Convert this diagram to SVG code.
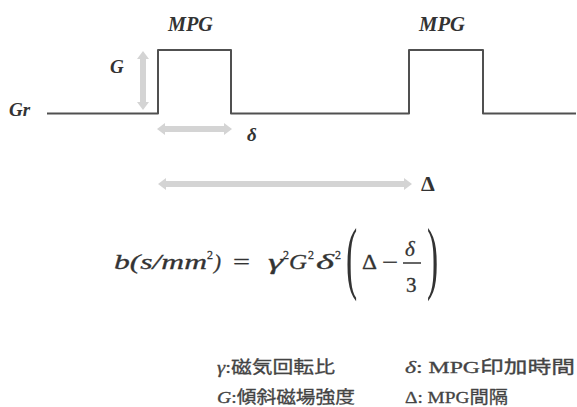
<svg xmlns="http://www.w3.org/2000/svg" width="577" height="407" viewBox="0 0 577 407">
<style>
.ln{fill:none;stroke:#505050;stroke-width:2;stroke-linejoin:round}
.ar{fill:#d4d4d4;stroke:none}
.it{font-family:"Liberation Serif",serif;font-style:italic;fill:#333}
.up{font-family:"Liberation Serif",serif;fill:#333}
.fm{stroke:#333;stroke-width:0.3}
.lg{font-family:"Liberation Serif","Noto Sans CJK JP",serif;font-size:17px;fill:#444;stroke:#444;stroke-width:0.3}
</style>
<rect width="577" height="407" fill="#fff"/>
<g id="axis">
<text class="it" x="9" y="116" font-size="19" font-weight="bold">Gr</text>
<polyline class="ln" points="47,113.5 158,113.5 158,50 231,50 231,113.5 409,113.5 409,50 483,50 483,113.5 576,113.5"/>
</g>
<g id="pulse1-label"><text class="it" x="168" y="31" font-size="20" font-weight="bold" textLength="45" lengthAdjust="spacingAndGlyphs">MPG</text></g>
<g id="pulse2-label"><text class="it" x="419" y="31" font-size="20" font-weight="bold" textLength="46" lengthAdjust="spacingAndGlyphs">MPG</text></g>
<g id="connectors">
<polygon class="ar" points="143,51 149,59 146,59 146,102 149,102 143,110 137,102 140,102 140,59 137,59"/>
<polygon class="ar" points="157,129 165,123 165,126 224,126 224,123 232,129 224,135 224,132 165,132 165,135"/>
<polygon class="ar" points="158,184 166,178 166,181 404,181 404,178 412,184 404,190 404,187 166,187 166,190"/>
</g>
<g id="G-label"><text class="it" x="110" y="73" font-size="19" font-weight="bold">G</text></g>
<g id="delta-label"><text class="it" x="247" y="141" font-size="19" font-weight="bold">δ</text></g>
<g id="Delta-label"><text class="up" x="421" y="191" font-size="22" font-weight="bold">Δ</text></g>
<g id="formula">
<text class="it fm" x="114" y="269" font-size="21" textLength="93" lengthAdjust="spacingAndGlyphs">b(s/mm</text>
<text class="up fm" x="207" y="259" font-size="12">2</text>
<text class="it fm" x="214" y="269" font-size="21">)</text>
<text class="up fm" x="233" y="269" font-size="21" textLength="17" lengthAdjust="spacingAndGlyphs">=</text>
<text class="it fm" x="268" y="269" font-size="21" textLength="15" lengthAdjust="spacingAndGlyphs">γ</text>
<text class="up fm" x="283" y="259" font-size="12">2</text>
<text class="it fm" x="289" y="269" font-size="21" textLength="18" lengthAdjust="spacingAndGlyphs">G</text>
<text class="up fm" x="308" y="259" font-size="12">2</text>
<text class="it fm" x="316" y="269" font-size="21" textLength="18" lengthAdjust="spacingAndGlyphs">δ</text>
<text class="up fm" x="335" y="259" font-size="12">2</text>
<text class="up" font-size="80" transform="translate(346,284) scale(0.42,1)">(</text>
<text class="up fm" x="362" y="269" font-size="21" textLength="15" lengthAdjust="spacingAndGlyphs">Δ</text>
<text class="up fm" x="382" y="269" font-size="21" textLength="16" lengthAdjust="spacingAndGlyphs">−</text>
<text class="it fm" x="405" y="256" font-size="21">δ</text>
<line x1="403" y1="263" x2="421" y2="263" stroke="#333" stroke-width="1.5"/>
<text class="up fm" x="406" y="292" font-size="21">3</text>
<text class="up" font-size="80" transform="translate(427,284) scale(0.42,1)">)</text>
</g>
<g id="legend">
<text class="lg" x="217" y="373" textLength="118" lengthAdjust="spacingAndGlyphs"><tspan font-style="italic">γ</tspan>:磁気回転比</text>
<text class="lg" x="217" y="403" textLength="138" lengthAdjust="spacingAndGlyphs"><tspan font-style="italic">G</tspan>:傾斜磁場強度</text>
<text class="lg" x="405" y="373" textLength="170" lengthAdjust="spacingAndGlyphs"><tspan font-style="italic">δ</tspan>: MPG印加時間</text>
<text class="lg" x="405" y="403" textLength="103" lengthAdjust="spacingAndGlyphs">Δ: MPG間隔</text>
</g>
</svg>
